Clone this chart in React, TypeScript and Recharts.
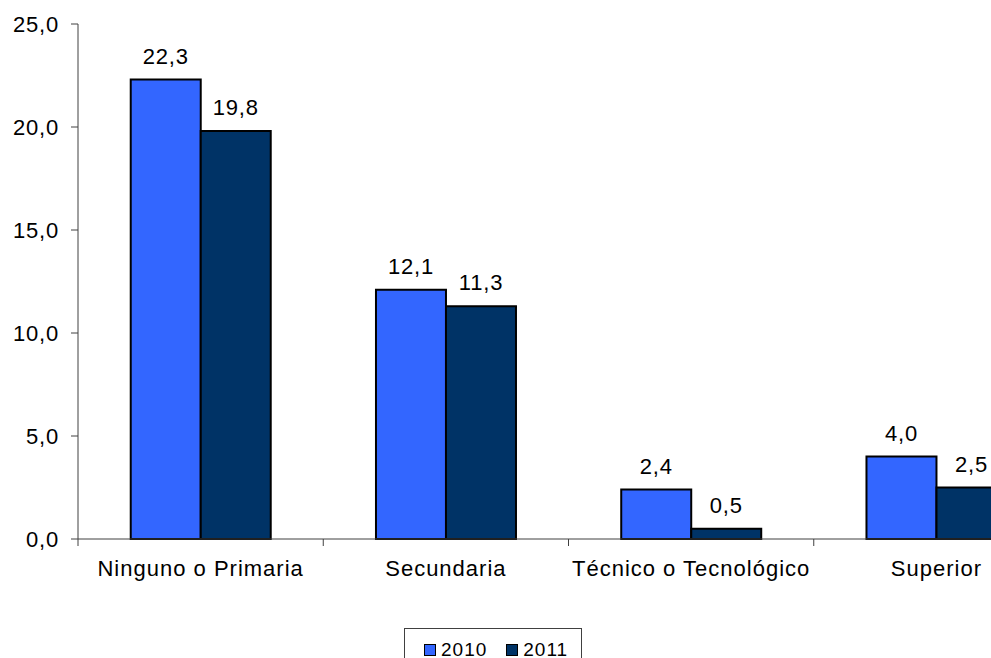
import React from 'react';
import { BarChart, Bar, XAxis, YAxis, LabelList, Legend } from 'recharts';

const categories = ['Ninguno o Primaria', 'Secundaria', 'Técnico o Tecnológico', 'Superior'];
const values2010 = [22.3, 12.1, 2.4, 4.0];
const values2011 = [19.8, 11.3, 0.5, 2.5];
const yTicks = [0, 5, 10, 15, 20, 25];
const seriesNames = ['2010', '2011'];
const colors = ['#3366FF', '#003366'];

const data = categories.map((c, i) => ({ name: c, a: values2010[i], b: values2011[i] }));

const FONT = '"Liberation Sans", Arial, sans-serif';
const FS = 22;
const LS = 0.8;
const fmt = (v: number) => v.toFixed(1).replace('.', ',');

const XTick = (props: any) => {
  const { x, y, payload } = props;
  const off = payload && payload.offset ? payload.offset : 0;
  const axisY = y - 21;
  return (
    <g>
      <line x1={x - off} x2={x - off} y1={axisY} y2={axisY + 7} stroke="#404040" strokeWidth={1} />
      <text x={x} y={y + 16} textAnchor="middle" fontFamily={FONT} fontSize={FS} letterSpacing={1} fill="#000">
        {payload.value}
      </text>
    </g>
  );
};

const LegendContent = () => (
  <div
    style={{
      border: '1px solid #404040',
      height: 40,
      boxSizing: 'border-box',
      background: '#fff',
      display: 'flex',
      alignItems: 'flex-start',
      paddingTop: 11,
      paddingLeft: 19,
      fontFamily: FONT,
      fontSize: 19,
      letterSpacing: 1,
      color: '#000',
    }}
  >
    {seriesNames.map((n, i) => (
      <div key={n} style={{ display: 'flex', alignItems: 'center', marginRight: 19 }}>
        <span
          style={{
            display: 'inline-block',
            width: 10,
            height: 10,
            background: colors[i],
            border: '1px solid #000',
            marginRight: 5,
          }}
        />
        <span style={{ lineHeight: '20px' }}>{n}</span>
      </div>
    ))}
  </div>
);

export default function App() {
  return (
    <div style={{ position: 'fixed', left: 0, top: 0, width: 991, height: 658, overflow: 'hidden', background: '#fff' }}>
      <BarChart
        width={1080}
        height={658}
        data={data}
        margin={{ top: 24, right: 21, left: 18, bottom: 89 }}
        barCategoryGap="21.5%"
        barGap={0}
      >
        <YAxis
          width={60}
          domain={[0, 25]}
          ticks={yTicks}
          interval={0}
          tickFormatter={fmt}
          tickSize={7}
          tickMargin={12}
          axisLine={{ stroke: '#404040' }}
          tickLine={{ stroke: '#404040' }}
          tick={{ fontFamily: FONT, fontSize: FS, letterSpacing: LS, fill: '#000' }}
        />
        <XAxis
          dataKey="name"
          height={30}
          interval={0}
          tickSize={7}
          tickMargin={14}
          tickLine={false}
          axisLine={{ stroke: '#404040' }}
          tick={<XTick />}
        />
        <Legend
          layout="horizontal"
          verticalAlign="middle"
          align="center"
          wrapperStyle={{ left: 404, top: 628, width: 178 }}
          content={<LegendContent />}
        />
        <Bar dataKey="a" name="2010" fill={colors[0]} stroke="#000" strokeWidth={2} isAnimationActive={false}>
          <LabelList
            dataKey="a"
            position="top"
            offset={16}
            formatter={(v: any) => fmt(Number(v))}
            style={{ fontFamily: FONT, fontSize: FS, letterSpacing: LS, fill: '#000' }}
          />
        </Bar>
        <Bar dataKey="b" name="2011" fill={colors[1]} stroke="#000" strokeWidth={2} isAnimationActive={false}>
          <LabelList
            dataKey="b"
            position="top"
            offset={16}
            formatter={(v: any) => fmt(Number(v))}
            style={{ fontFamily: FONT, fontSize: FS, letterSpacing: LS, fill: '#000' }}
          />
        </Bar>
      </BarChart>
    </div>
  );
}
